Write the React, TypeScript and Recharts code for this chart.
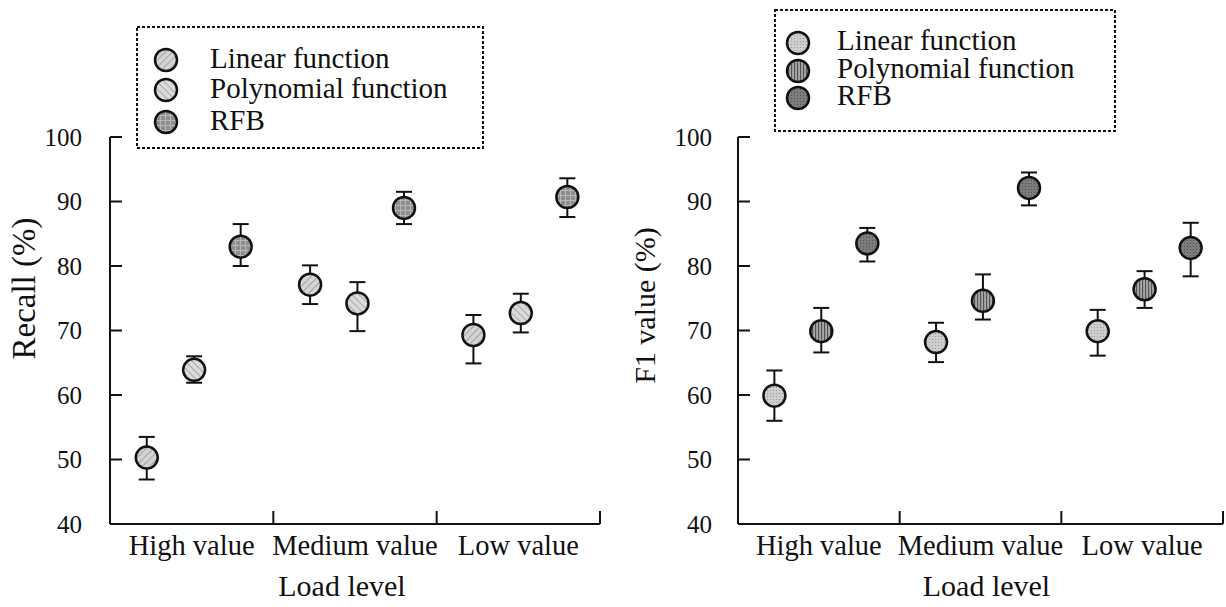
import React from "react";
import { ErrorBar, Label, Scatter, ScatterChart, XAxis, YAxis } from "recharts";

// categories and series
const categories = ["High value", "Medium value", "Low value"];
const seriesNames = ["Linear function", "Polynomial function", "RFB"];
const yTicks = [40, 50, 60, 70, 80, 90, 100];

// Recall (%) — errors are [below, above]
const recallLinear = [50.3, 77.1, 69.3];
const recallPoly = [63.9, 74.2, 72.7];
const recallRfb = [83.0, 89.0, 90.7];
const recallLinearErr = [[3.4, 3.2], [3.0, 3.0], [4.4, 3.1]];
const recallPolyErr = [[2.0, 2.1], [4.3, 3.3], [3.0, 3.0]];
const recallRfbErr = [[3.0, 3.5], [2.5, 2.5], [3.1, 2.9]];

// F1 value (%)
const f1Linear = [59.9, 68.2, 69.9];
const f1Poly = [69.9, 74.6, 76.4];
const f1Rfb = [83.5, 92.1, 82.8];
const f1LinearErr = [[3.9, 3.9], [3.1, 3.0], [3.8, 3.3]];
const f1PolyErr = [[3.3, 3.6], [2.9, 4.1], [2.9, 2.8]];
const f1RfbErr = [[2.8, 2.4], [2.7, 2.4], [4.4, 3.9]];

// horizontal offset of each series inside its category slot
const OFFSETS = [-0.275, 0.015, 0.3];
const FONT = '"Liberation Serif", "Times New Roman", serif';
const INK = "#111";

type Row = { x: number; y: number; err: number[] };

function rows(values: number[], errs: number[][], s: number): Row[] {
  return values.map((v, i) => ({ x: i + 0.5 + OFFSETS[s], y: v, err: errs[i] }));
}

function Patterns() {
  return (
    <svg width={0} height={0} style={{ position: "absolute" }}>
      <defs>
        <pattern id="lLin" width="5" height="5" patternUnits="userSpaceOnUse" patternTransform="rotate(45)">
          <rect width="5" height="5" fill="#d4d4d4" />
          <line x1="0" y1="0" x2="0" y2="5" stroke="#8c8c8c" strokeWidth="1.4" />
        </pattern>
        <pattern id="lPoly" width="5" height="5" patternUnits="userSpaceOnUse" patternTransform="rotate(-45)">
          <rect width="5" height="5" fill="#dadada" />
          <line x1="0" y1="0" x2="0" y2="5" stroke="#959595" strokeWidth="1.4" />
        </pattern>
        <pattern id="lRfb" width="5" height="5" patternUnits="userSpaceOnUse">
          <rect width="5" height="5" fill="#8e8e8e" />
          <line x1="0" y1="0.5" x2="5" y2="0.5" stroke="#b8b8b8" strokeWidth="1" />
          <line x1="0.5" y1="0" x2="0.5" y2="5" stroke="#b8b8b8" strokeWidth="1" />
        </pattern>
        <pattern id="rLin" width="3" height="3" patternUnits="userSpaceOnUse">
          <rect width="3" height="3" fill="#cdcdcd" />
          <rect width="1" height="1" fill="#9c9c9c" />
        </pattern>
        <pattern id="rPoly" width="3" height="3" patternUnits="userSpaceOnUse">
          <rect width="3" height="3" fill="#a8a8a8" />
          <line x1="0.6" y1="0" x2="0.6" y2="3" stroke="#4e4e4e" strokeWidth="1.1" />
        </pattern>
        <pattern id="rRfb" width="3" height="3" patternUnits="userSpaceOnUse">
          <rect width="3" height="3" fill="#7c7c7c" />
          <rect width="1" height="1" fill="#505050" />
        </pattern>
      </defs>
    </svg>
  );
}

function XTick(props: any) {
  const { x, y, payload } = props;
  const v = payload.value as number;
  if (Number.isInteger(v)) {
    if (v === 0) return <g />;
    return <line x1={x} x2={x} y1={y} y2={y - 13} stroke={INK} strokeWidth={2} />;
  }
  return (
    <text x={x} y={y + 31} textAnchor="middle" fontSize={28.5} fontFamily={FONT} fill={INK}>
      {categories[Math.floor(v)]}
    </text>
  );
}

function makeYTick(gap: number) {
  return (props: any) => {
    const { x, y, payload } = props;
    return (
      <g>
        {payload.value !== 40 && <line x1={x} x2={x + 12} y1={y} y2={y} stroke={INK} strokeWidth={2} />}
        <text x={x - gap} y={y} textAnchor="end" dominantBaseline="central" fontSize={25} fontFamily={FONT} fill={INK}>
          {payload.value}
        </text>
      </g>
    );
  };
}

type PanelProps = {
  left: number;
  width: number;
  yWidth: number;
  rightMargin: number;
  title: string;
  titleSize: number;
  titleX: number;
  titleShift: number;
  labelGap: number;
  xLabelShift: number;
  series: Row[][];
  fills: string[];
};

function Panel(p: PanelProps) {
  return (
    <div style={{ position: "absolute", left: p.left, top: 0 }}>
      <ScatterChart width={p.width} height={607} margin={{ top: 137, right: p.rightMargin, bottom: 0, left: 0 }}>
        <XAxis
          type="number"
          dataKey="x"
          domain={[0, 3]}
          ticks={[0, 0.5, 1, 1.5, 2, 2.5, 3]}
          interval={0}
          height={83}
          tickSize={0}
          tickMargin={0}
          tickLine={false}
          axisLine={{ stroke: INK, strokeWidth: 2 }}
          tick={(t: any) => <XTick {...t} />}
        >
          <Label
            content={(lp: any) => {
              const vb = lp.viewBox;
              if (!vb) return null;
              return (
                <text x={vb.x + vb.width / 2 + p.xLabelShift} y={vb.y + 72} textAnchor="middle" fontSize={30} fontFamily={FONT} fill={INK}>
                  Load level
                </text>
              );
            }}
          />
        </XAxis>
        <YAxis
          type="number"
          dataKey="y"
          domain={[40, 100]}
          ticks={yTicks}
          interval={0}
          width={p.yWidth}
          tickSize={0}
          tickMargin={0}
          tickLine={false}
          axisLine={{ stroke: INK, strokeWidth: 2 }}
          tick={makeYTick(p.labelGap)}
        >
          <Label
            content={(lp: any) => {
              const vb = lp.viewBox;
              if (!vb) return null;
              const cx = vb.x + p.titleX;
              const cy = vb.y + vb.height / 2 + p.titleShift;
              return (
                <text
                  x={cx}
                  y={cy}
                  transform={`rotate(-90 ${cx} ${cy})`}
                  textAnchor="middle"
                  dominantBaseline="central"
                  fontSize={p.titleSize}
                  fontFamily={FONT}
                  fill={INK}
                >
                  {p.title}
                </text>
              );
            }}
          />
        </YAxis>
        {p.series.map((data, s) => (
          <Scatter
            key={`m${s}`}
            data={data}
            isAnimationActive={false}
            shape={(sp: any) => (
              <circle cx={sp.cx} cy={sp.cy} r={11} fill={`url(#${p.fills[s]})`} stroke={INK} strokeWidth={2.5} />
            )}
          />
        ))}
        {p.series.map((data, s) => (
          <Scatter key={`e${s}`} data={data} isAnimationActive={false} shape={() => <g />}>
            <ErrorBar dataKey="err" direction="y" width={8} stroke={INK} strokeWidth={2} isAnimationActive={false} />
          </Scatter>
        ))}
      </ScatterChart>
    </div>
  );
}

function LegendBox(props: { x: number; y: number; w: number; h: number; cx: number; tx: number; rowsY: number[]; dy: number; fills: string[] }) {
  const { x, y, w, h, cx, tx, rowsY, dy, fills } = props;
  return (
    <svg width={w + 4} height={h + 4} style={{ position: "absolute", left: x - 2, top: y - 2 }}>
      <rect x={2} y={2} width={w} height={h} fill="white" stroke={INK} strokeWidth={2} strokeDasharray="3 2" />
      {seriesNames.map((name, i) => (
        <g key={name}>
          <circle cx={cx + 2} cy={rowsY[i] + 2} r={11} fill={`url(#${fills[i]})`} stroke={INK} strokeWidth={2.5} />
          <text x={tx + 2} y={rowsY[i] + 2 + dy} fontSize={29} fontFamily={FONT} fill={INK}>
            {name}
          </text>
        </g>
      ))}
    </svg>
  );
}

export default function App() {
  const leftFills = ["lLin", "lPoly", "lRfb"];
  const rightFills = ["rLin", "rPoly", "rRfb"];
  return (
    <div style={{ position: "fixed", left: 0, top: 0, width: 1226, height: 607, background: "#fff", overflow: "hidden" }}>
      <Patterns />
      <Panel
        left={0}
        width={612}
        yWidth={110}
        rightMargin={12}
        title="Recall (%)"
        titleSize={33}
        titleX={24}
        titleShift={-42}
        labelGap={28}
        xLabelShift={-13}
        series={[
          rows(recallLinear, recallLinearErr, 0),
          rows(recallPoly, recallPolyErr, 1),
          rows(recallRfb, recallRfbErr, 2),
        ]}
        fills={leftFills}
      />
      <Panel
        left={626}
        width={600}
        yWidth={112}
        rightMargin={3}
        title="F1 value (%)"
        titleSize={30}
        titleX={18}
        titleShift={-25}
        labelGap={26}
        xLabelShift={6}
        series={[rows(f1Linear, f1LinearErr, 0), rows(f1Poly, f1PolyErr, 1), rows(f1Rfb, f1RfbErr, 2)]}
        fills={rightFills}
      />
      <LegendBox x={137} y={27} w={346} h={121} cx={29} tx={73} rowsY={[33, 63, 95]} dy={8} fills={leftFills} />
      <LegendBox x={775} y={10} w={340} h={121} cx={23} tx={62} rowsY={[33, 61, 88]} dy={7} fills={rightFills} />
    </div>
  );
}
